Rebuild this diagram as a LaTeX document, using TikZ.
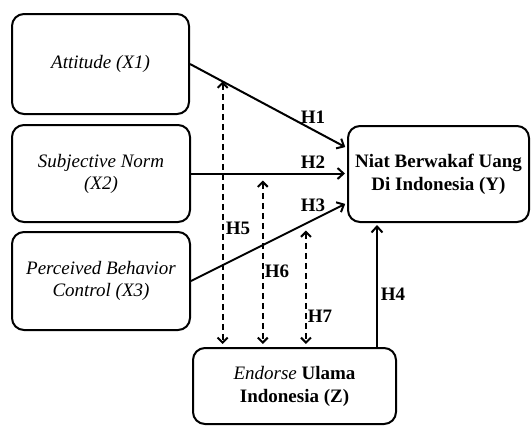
\documentclass[tikz,border=0pt]{standalone}
\usepackage{fontspec}
\setmainfont{LiberationSerif}[Extension=.ttf, UprightFont=*-Regular, BoldFont=*-Bold, ItalicFont=*-Italic, BoldItalicFont=*-BoldItalic]
\usetikzlibrary{arrows.meta}

\begin{document}
\begin{tikzpicture}[x=1pt, y=-1pt, font=\fontsize{19}{22}\selectfont,
  varbox/.style={draw, line width=2pt, rounded corners=12pt, align=center, inner sep=0pt},
  relpath/.style={line width=2pt, -{Straight Barb[length=6pt, width=11pt, line width=2pt]}, shorten >=2pt},
  modpath/.style={line width=2pt, dash pattern=on 6pt off 4pt,
    {Straight Barb[length=5pt, width=10pt, line width=2pt]}-{Straight Barb[length=5pt, width=10pt, line width=2pt]}},
  hlabel/.style={font=\fontsize{19}{22}\selectfont\bfseries}]
  \useasboundingbox (0,0) rectangle (531,426);
  % independent variables
  \node[varbox, minimum width=177pt, minimum height=100pt] (att) at (100.5,64) {\itshape Attitude (X1)};
  \node[varbox, minimum width=178pt, minimum height=97pt] (sn) at (101,173.5) {\itshape Subjective Norm\\\itshape (X2)};
  \node[varbox, minimum width=178pt, minimum height=98pt] (pbc) at (101,281) {\itshape Perceived Behavior\\\itshape Control (X3)};
  % dependent and moderating variables
  \node[varbox, minimum width=181pt, minimum height=96pt, font=\fontsize{19}{23}\selectfont\bfseries] (niat) at (438.5,174) {Niat Berwakaf Uang\\Di Indonesia (Y)};
  \node[varbox, minimum width=203pt, minimum height=76pt, font=\fontsize{19}{23}\selectfont\bfseries] (endorse) at (294.5,386) {\textit{\mdseries Endorse} Ulama\\Indonesia (Z)};
  % direct paths
  \draw[relpath] (att.east) -- coordinate[pos=0.208] (m1) ([yshift=26pt]niat.west);
  \draw[relpath] (sn.east) -- coordinate[pos=0.46] (m2) (sn.east -| niat.west);
  \draw[relpath] (pbc.east) -- coordinate[pos=0.737] (m3) ([yshift=-29pt]niat.west);
  \draw[relpath] ([xshift=82.5pt]endorse.north) -- ([xshift=82.5pt]endorse.north |- niat.south);
  % moderating paths
  \draw[modpath, shorten >=3pt] (m1) -- (m1 |- endorse.north);
  \draw[modpath, shorten <=7pt, shorten >=3pt] (m2) -- (m2 |- endorse.north);
  \draw[modpath, shorten <=7pt, shorten >=3pt] (m3) -- (m3 |- endorse.north);
  % labels
  \node[hlabel] (h1) at (313,117) {H1};
  \node[hlabel] (h2) at (313,162) {H2};
  \node[hlabel] (h3) at (313,205) {H3};
  \node[hlabel] (h4) at (393,294) {H4};
  \node[hlabel] (h5) at (238,228) {H5};
  \node[hlabel] (h6) at (277,271) {H6};
  \node[hlabel] (h7) at (320,316) {H7};
\end{tikzpicture}
\end{document}
